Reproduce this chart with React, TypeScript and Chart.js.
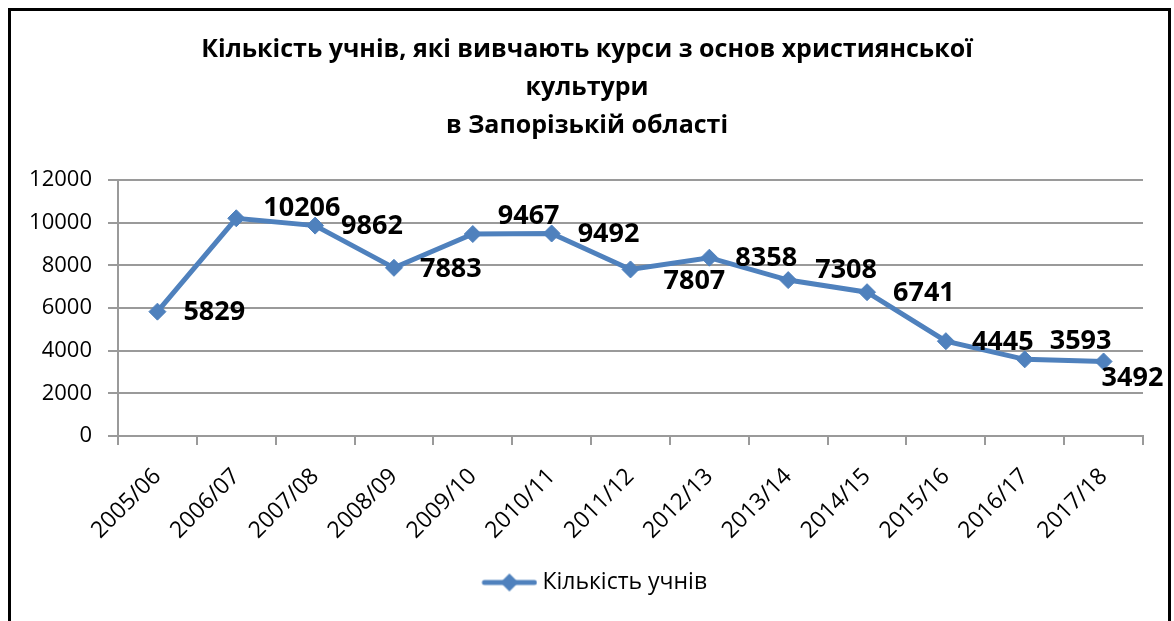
import React, { useEffect, useRef } from 'react';
import { Chart, registerables } from 'chart.js';

Chart.register(...registerables);

// ---- data ----
const titleLines = [
  'Кількість учнів, які вивчають курси з основ християнської',
  'культури',
  'в Запорізькій області',
];
const categories = [
  '2005/06', '2006/07', '2007/08', '2008/09', '2009/10', '2010/11', '2011/12',
  '2012/13', '2013/14', '2014/15', '2015/16', '2016/17', '2017/18',
];
const students = [5829, 10206, 9862, 7883, 9467, 9492, 7807, 8358, 7308, 6741, 4445, 3593, 3492];
const seriesName = 'Кількість учнів';
const yMin = 0;
const yMax = 12000;
const yStep = 2000;

// ---- label placement (style) ----
const labelPlacement = [
  'right', 'above', 'right', 'right', 'aboveHigh', 'right', 'belowRight',
  'right', 'above', 'right', 'right', 'aboveHigh', 'below',
];
const placementOffsets: Record<string, { dx: number; dy: number }> = {
  right: { dx: 26, dy: 1 },
  above: { dx: 27, dy: -10 },
  aboveHigh: { dx: 25, dy: -18 },
  belowRight: { dx: 33, dy: 12 },
  below: { dx: -2, dy: 17 },
};

const FONT = "'Open Sans', 'Noto Sans', sans-serif";
const BLUE = '#4F81BD';
const GRID = '#9a9a9a';

const dataLabelPlugin = {
  id: 'dataLabels',
  afterDatasetsDraw(chart: any) {
    const ctx = chart.ctx;
    const meta = chart.getDatasetMeta(0);
    ctx.save();
    ctx.font = `bold 27px ${FONT}`;
    ctx.fillStyle = '#000';
    ctx.textAlign = 'left';
    ctx.textBaseline = 'middle';
    meta.data.forEach((pt: any, i: number) => {
      const off = placementOffsets[labelPlacement[i]] || placementOffsets.right;
      ctx.fillText(String(chart.data.datasets[0].data[i]), pt.x + off.dx, pt.y + off.dy);
    });
    ctx.restore();
  },
};

// legend symbol: line with a diamond, drawn in the right part of the image
function makeLegendSymbol(): HTMLCanvasElement {
  const c = document.createElement('canvas');
  const lead = 21;
  c.width = lead + 56;
  c.height = 22;
  const g = c.getContext('2d')!;
  g.strokeStyle = BLUE;
  g.lineWidth = 5;
  g.lineCap = 'round';
  g.beginPath();
  g.moveTo(lead + 3, 11);
  g.lineTo(lead + 53, 11);
  g.stroke();
  g.fillStyle = BLUE;
  const cx = lead + 28;
  g.beginPath();
  g.moveTo(cx - 9, 11);
  g.lineTo(cx, 2);
  g.lineTo(cx + 9, 11);
  g.lineTo(cx, 20);
  g.closePath();
  g.fill();
  return c;
}

export default function App() {
  const canvasRef = useRef<HTMLCanvasElement | null>(null);

  useEffect(() => {
    if (!canvasRef.current) return;
    const legendSymbol = makeLegendSymbol();
    const chart = new Chart(canvasRef.current, {
      type: 'line',
      data: {
        labels: categories,
        datasets: [
          {
            label: seriesName,
            data: students,
            borderColor: BLUE,
            backgroundColor: BLUE,
            borderWidth: 5,
            pointStyle: 'rectRot',
            pointRadius: 8.5,
            pointBorderWidth: 1,
            pointBackgroundColor: BLUE,
            pointBorderColor: BLUE,
            tension: 0,
            fill: false,
          },
        ],
      },
      options: {
        responsive: false,
        animation: false,
        devicePixelRatio: 1,
        layout: { padding: { left: 31, right: 31, top: 0, bottom: 17 } },
        plugins: {
          title: {
            display: true,
            text: titleLines,
            color: '#000',
            font: { family: FONT, size: 25, weight: 'bold', lineHeight: 38 / 25 },
            padding: { top: 31, bottom: 35 },
          },
          legend: {
            display: true,
            position: 'bottom',
            labels: {
              usePointStyle: true,
              pointStyleWidth: 64,
              color: '#000',
              font: { family: FONT, size: 23 },
              padding: 10,
              generateLabels: (ch: any) => {
                const items = Chart.defaults.plugins.legend.labels.generateLabels(ch);
                return items.map((it: any) => ({ ...it, pointStyle: legendSymbol }));
              },
            },
          },
          tooltip: { enabled: false },
        },
        scales: {
          x: {
            offset: true,
            grid: {
              display: true,
              drawOnChartArea: false,
              drawTicks: true,
              tickLength: 9,
              color: GRID,
              lineWidth: 2,
              offset: true,
            },
            border: { display: true, color: GRID, width: 2 },
            ticks: {
              autoSkip: false,
              maxRotation: 45,
              minRotation: 45,
              color: '#000',
              font: { family: FONT, size: 23 },
              padding: 18,
            },
            afterFit: (scale: any) => {
              scale.height = 125;
            },
          },
          y: {
            min: yMin,
            max: yMax,
            grid: {
              color: GRID,
              lineWidth: 2,
              drawTicks: true,
              tickLength: 10,
            },
            border: { display: true, color: GRID, width: 2 },
            ticks: {
              stepSize: yStep,
              color: '#000',
              font: { family: FONT, size: 22 },
              padding: 16,
              callback: (v: any) => String(v),
            },
            afterFit: (scale: any) => {
              scale.width = 87;
            },
          },
        },
      },
      plugins: [dataLabelPlugin],
    });
    return () => chart.destroy();
  }, []);

  return (
    <div
      style={{
        position: 'fixed',
        left: 0,
        top: 0,
        width: 1174,
        height: 621,
        overflow: 'hidden',
        background: '#fff',
      }}
    >
      <div
        style={{
          position: 'absolute',
          left: 8,
          top: 8,
          width: 1157,
          height: 660,
          border: '3px solid #000',
        }}
      />
      <canvas
        ref={canvasRef}
        width={1174}
        height={621}
        style={{ position: 'absolute', left: 0, top: 0, width: 1174, height: 621 }}
      />
    </div>
  );
}
